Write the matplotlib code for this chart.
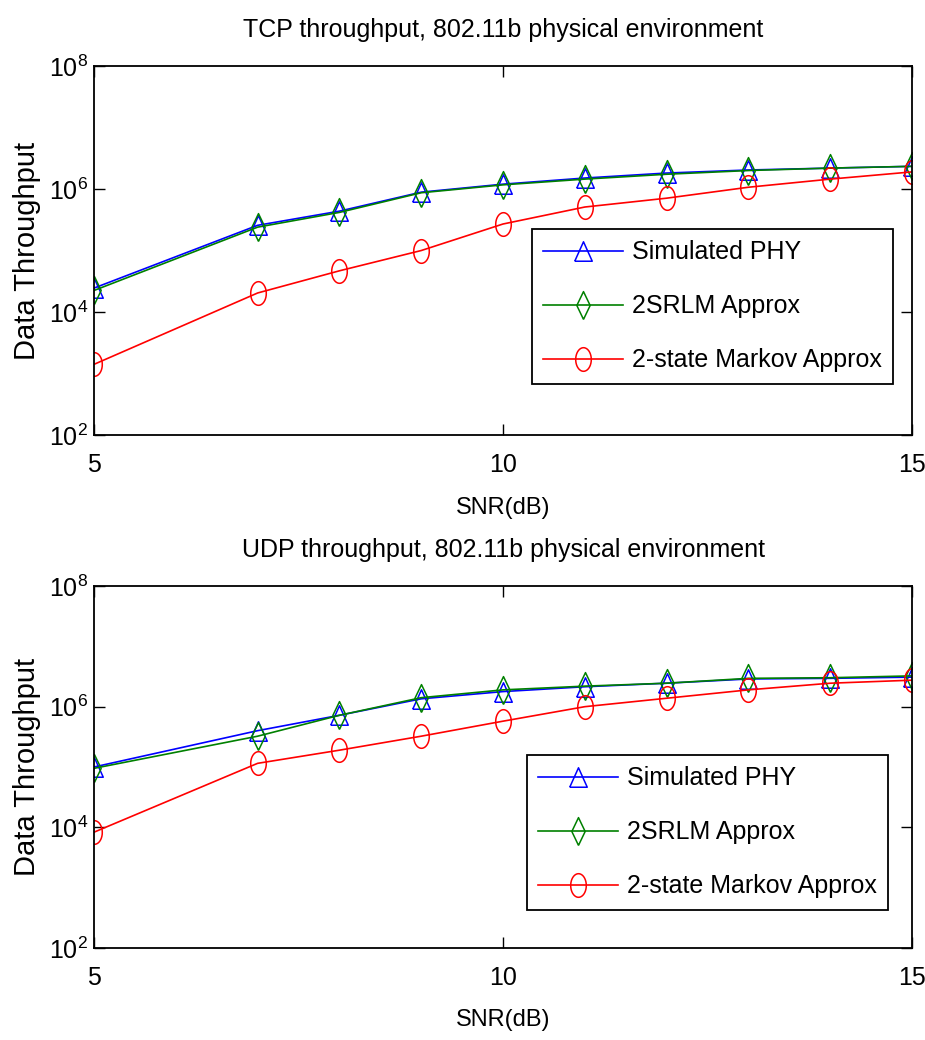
import numpy as np
import matplotlib
matplotlib.use("Agg")
from matplotlib import pyplot as plt

plt.rcParams["font.family"] = ["Liberation Sans", "DejaVu Sans"]
plt.rcParams["mathtext.default"] = "regular"

SNR = [5, 7, 8, 9, 10, 11, 12, 13, 14, 15]

TCP_SIMULATED = [2.45e4, 2.57e5, 4.37e5, 8.9e5, 1.2e6, 1.51e6, 1.82e6, 2.04e6, 2.19e6, 2.34e6]
TCP_2SRLM = [2.24e4, 2.4e5, 4.17e5, 8.7e5, 1.17e6, 1.45e6, 1.74e6, 2.0e6, 2.19e6, 2.34e6]
TCP_MARKOV = [1.41e3, 2.04e4, 4.68e4, 1.0e5, 2.7e5, 5.1e5, 7.1e5, 1.07e6, 1.45e6, 1.9e6]

UDP_SIMULATED = [1.0e5, 4.0e5, 7.2e5, 1.35e6, 1.78e6, 2.14e6, 2.45e6, 2.88e6, 2.95e6, 3.09e6]
UDP_2SRLM = [9.5e4, 3.24e5, 7.2e5, 1.41e6, 1.9e6, 2.19e6, 2.45e6, 2.95e6, 3.02e6, 3.24e6]
UDP_MARKOV = [8.3e3, 1.15e5, 1.9e5, 3.24e5, 5.75e5, 1.0e6, 1.38e6, 1.9e6, 2.45e6, 2.75e6]

LABELS = ["Simulated PHY", "2SRLM Approx", "2-state Markov Approx"]
TITLES = ["TCP throughput, 802.11b physical environment",
          "UDP throughput, 802.11b physical environment"]

# the picture is stretched vertically, so the markers are taller than wide
t = np.linspace(0, 2 * np.pi, 40)
ELLIPSE = list(zip(0.33 * np.cos(t), 0.5 * np.sin(t)))
TRIANGLE = [(-0.45, -0.5), (0.45, -0.5), (0.0, 0.5), (-0.45, -0.5)]
DIAMOND = [(0.0, -0.5), (0.24, 0.0), (0.0, 0.5), (-0.24, 0.0), (0.0, -0.5)]

STYLES = [
    dict(color="#0000ff", marker=TRIANGLE, markersize=14),
    dict(color="#008000", marker=DIAMOND, markersize=20),
    dict(color="#ff0000", marker=ELLIPSE, markersize=17),
]

fig = plt.figure(figsize=(9.25, 10.4), dpi=100)
ax_top = fig.add_axes([0.1016, 0.5817, 0.8844, 0.3548])
ax_bot = fig.add_axes([0.1016, 0.0885, 0.8844, 0.3480])

panels = [
    (ax_top, [TCP_SIMULATED, TCP_2SRLM, TCP_MARKOV], TITLES[0], (0.535, 0.558)),
    (ax_bot, [UDP_SIMULATED, UDP_2SRLM, UDP_MARKOV], TITLES[1], (0.529, 0.533)),
]

for ax, series, title, legend_anchor in panels:
    for values, label, style in zip(series, LABELS, STYLES):
        ax.plot(SNR, values, label=label, linewidth=1.2, markerfacecolor="none",
                markeredgewidth=1.1, **style)
    ax.set_yscale("log")
    ax.set_xlim(5, 15)
    ax.set_ylim(1e2, 1e8)
    ax.set_xticks([5, 10, 15])
    ax.set_yticks([1e2, 1e4, 1e6, 1e8])
    ax.minorticks_off()
    ax.tick_params(direction="in", top=True, right=True, length=8, width=1.0,
                   labelsize=18)
    ax.tick_params(axis="x", pad=13)
    ax.tick_params(axis="y", pad=4)
    for spine in ax.spines.values():
        spine.set_linewidth(1.3)
    ax.set_title(title, fontsize=18, pad=21)
    ax.set_xlabel("SNR(dB)", fontsize=17, labelpad=14)
    ax.set_ylabel("Data Throughput", fontsize=21, labelpad=6)
    leg = ax.legend(loc="upper left", bbox_to_anchor=legend_anchor, fontsize=18,
                    fancybox=False, framealpha=1, edgecolor="black",
                    borderaxespad=0, handlelength=3.2, labelspacing=1.2,
                    borderpad=0.45, handletextpad=0.35)
    leg.get_frame().set_linewidth(1.3)

fig.savefig("out.png", dpi=100)
